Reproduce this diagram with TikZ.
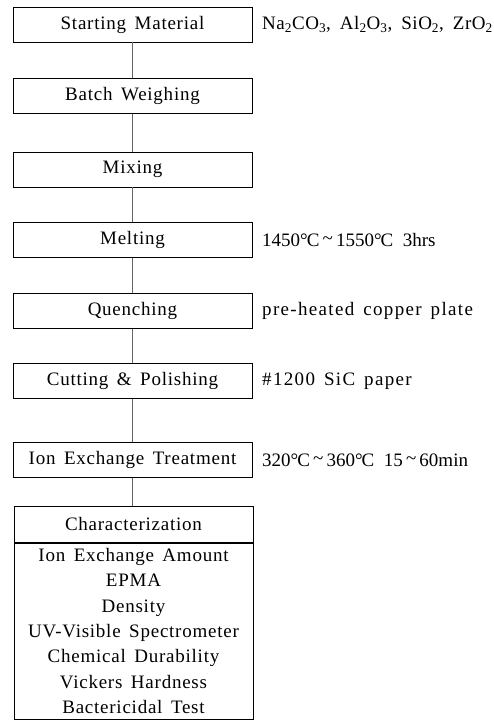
\documentclass[tikz,border=0pt]{standalone}
\usepackage{fontspec}
\setmainfont{Liberation Serif}
\usetikzlibrary{positioning}
\newcommand{\degC}{°\kern-1ptC}
\newcommand{\wave}{\,\raisebox{0.2ex}{\textasciitilde}\,}
\newcommand{\boxspace}{\spaceskip=8.5pt plus 1pt\relax}
\newcommand{\notespace}{\spaceskip=9pt plus 1pt\relax}
\begin{document}
\begin{tikzpicture}[x=1pt,y=-1pt,
  font=\fontsize{19}{25.3}\selectfont,
  stepbox/.style={draw=black, line width=0.9pt, rectangle, minimum width=239pt, minimum height=35pt, inner sep=0pt,
    font=\fontsize{19}{25.3}\selectfont\addfontfeature{LetterSpace=4}\boxspace},
  note/.style={anchor=west, inner sep=0pt, font=\fontsize{19}{25.3}\selectfont\addfontfeature{LetterSpace=7}\notespace},
  chemnote/.style={anchor=west, inner sep=0pt, font=\fontsize{19}{25.3}\selectfont\addfontfeature{LetterSpace=3}\notespace},
  tempnote/.style={anchor=west, inner sep=0pt},
  link/.style={draw=black!60, line width=0.8pt}]
\useasboundingbox (0,0) rectangle (494,722);
\node[stepbox] (s1) at (132.5,24.5) {Starting Material};
\node[stepbox] (s2) at (132.5,96) {Batch Weighing};
\node[stepbox] (s3) at (132.5,169.5) {Mixing};
\node[stepbox] (s4) at (132.5,240) {Melting};
\node[stepbox] (s5) at (132.5,311) {Quenching};
\node[stepbox] (s6) at (132.5,381) {Cutting \& Polishing};
\node[stepbox] (s7) at (132.5,460) {Ion Exchange Treatment};
\node[stepbox, minimum height=36pt] (c1) at (133.5,524) {Characterization};
\node[stepbox, minimum height=176pt, align=center] (c2) at (133.5,631)
  {Ion Exchange Amount\\EPMA\\Density\\UV-Visible Spectrometer\\Chemical Durability\\Vickers Hardness\\Bactericidal Test};
\node[chemnote] (n1) at (262,24.5) {Na\textsubscript{2}CO\textsubscript{3}, Al\textsubscript{2}O\textsubscript{3}, SiO\textsubscript{2}, ZrO\textsubscript{2}};
\node[tempnote] (n4) at (262,240) {1450\degC\wave1550\degC\ \ 3hrs};
\node[note] (n5) at (262,311) {pre-heated copper plate};
\node[note] (n6) at (262,381) {\#1200 SiC paper};
\node[tempnote] (n7) at (262,460) {320\degC\wave360\degC\ \ 15\wave60min};
\draw[link] (s1) -- (s2);
\draw[link] (s2) -- (s3);
\draw[link] (s3) -- (s4);
\draw[link] (s4) -- (s5);
\draw[link] (s5) -- (s6);
\draw[link] (s6) -- (s7);
\draw[link] (s7.south) -- (s7.south |- c1.north);
\end{tikzpicture}
\end{document}
